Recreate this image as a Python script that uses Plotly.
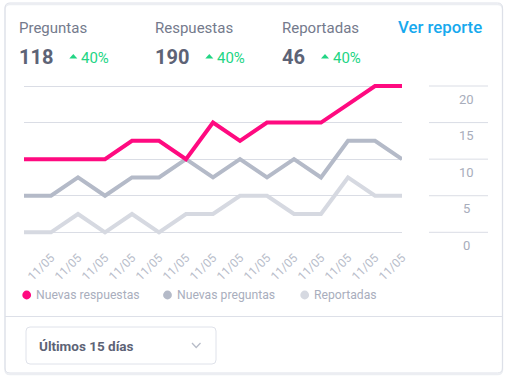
import plotly.graph_objects as go

# ---------------- data ----------------
labels = ["11/05", "11/05", "11/05", "11/05", "11/05", "11/05", "11/05", "11/05",
          "11/05", "11/05", "11/05", "11/05", "11/05", "11/05", "11/05"]
nuevas_respuestas = [10, 10, 10, 10, 12.5, 12.5, 10, 15, 12.5, 15, 15, 15, 17.5, 20, 20]
nuevas_preguntas = [5, 5, 7.5, 5, 7.5, 7.5, 10, 7.5, 10, 7.5, 10, 7.5, 12.5, 12.5, 10]
reportadas = [0, 0, 2.5, 0, 2.5, 0, 2.5, 2.5, 5, 5, 2.5, 2.5, 7.5, 5, 5]
y_ticks = [0, 5, 10, 15, 20]

kpi_names = ["Preguntas", "Respuestas", "Reportadas"]
kpi_values = ["118", "190", "46"]
kpi_changes = ["40%", "40%", "40%"]
series_names = ["Nuevas respuestas", "Nuevas preguntas", "Reportadas"]
period_label = "Últimos 15 días"
link_label = "Ver reporte"

# ---------------- style ----------------
W, H = 508, 380
ML, MR, MT, MB = 24, 106, 82, 144
PW, PH = W - ML - MR, H - MT - MB
PINK, GRAY, LIGHT = "#ff0a80", "#b4bac8", "#d6d9e1"
GREEN = "#22d584"
GRID = "#dadde5"
FONT = "Roboto"
APAD = 3  # annotation internal padding (px)


def px(x):
    return (x - ML) / PW


def py(y):
    return (H - MB - y) / PH


def rounded_rect(x0, y0, x1, y1, r):
    rx, ry = r / PW, r / PH
    X0, X1 = px(x0), px(x1)
    Y0, Y1 = py(y0), py(y1)
    return (f"M {X0+rx},{Y0} L {X1-rx},{Y0} Q {X1},{Y0} {X1},{Y0-ry} "
            f"L {X1},{Y1+ry} Q {X1},{Y1} {X1-rx},{Y1} L {X0+rx},{Y1} "
            f"Q {X0},{Y1} {X0},{Y1+ry} L {X0},{Y0-ry} Q {X0},{Y0} {X0+rx},{Y0} Z")


def text_left(x, y, text, size, color, weight=None):
    f = dict(family=FONT, size=size, color=color)
    if weight:
        f["weight"] = weight
    return dict(xref="paper", yref="paper", x=px(x - APAD), y=py(y),
                xanchor="left", yanchor="middle", showarrow=False, text=text, font=f)


x = list(range(len(labels)))
fig = go.Figure()
for name, vals, col in [(series_names[2], reportadas, LIGHT),
                        (series_names[1], nuevas_preguntas, GRAY),
                        (series_names[0], nuevas_respuestas, PINK)]:
    fig.add_trace(go.Scatter(x=x, y=vals, name=name, mode="lines",
                             line=dict(color=col, width=4), showlegend=False,
                             hoverinfo="skip"))

ypad_bottom = (236 - 232.3) * 20 / 146.3
ypad_top = (86 - 82) * 20 / 146.3

shapes = []
annotations = []

# card shadow + border
shapes.append(dict(type="path", xref="paper", yref="paper",
                   path=rounded_rect(5, 4.5, 502.5, 374.5, 5),
                   line=dict(color="#eceef2", width=1.5), layer="below"))
shapes.append(dict(type="path", xref="paper", yref="paper",
                   path=rounded_rect(5, 3, 502.5, 373, 5),
                   line=dict(color="#dde0e8", width=1), fillcolor="rgba(0,0,0,0)",
                   layer="below"))
# divider
shapes.append(dict(type="line", xref="paper", yref="paper",
                   x0=px(5), x1=px(502.5), y0=py(316.5), y1=py(316.5),
                   line=dict(color="#dde0e8", width=1)))
# dropdown
shapes.append(dict(type="path", xref="paper", yref="paper",
                   path=rounded_rect(26, 327, 216, 364, 4),
                   line=dict(color="#dfe2ea", width=1)))
shapes.append(dict(type="path", xref="paper", yref="paper",
                   path=f"M {px(192)},{py(343)} L {px(196.2)},{py(347.5)} L {px(200.5)},{py(343)}",
                   line=dict(color="#b7bcc8", width=1.3)))
annotations.append(text_left(40, 345.5, f"<b>{period_label}</b>", 13.5, "#5d6376"))

# right side axis: short lines + labels
for v in y_ticks:
    shapes.append(dict(type="line", xref="paper", yref="y",
                       x0=px(429), x1=px(488), y0=v, y1=v,
                       line=dict(color=GRID, width=1)))
    annotations.append(dict(xref="paper", yref="y", x=px(466), y=v, yshift=-13,
                            xanchor="center", yanchor="middle", showarrow=False,
                            text=str(v), font=dict(family=FONT, size=13, color="#a8adbb")))

# KPI header
kx = [19.5, 155.5, 283.3]
arrow_x = [73.3, 209.3, 325]
for i, (n, v, c) in enumerate(zip(kpi_names, kpi_values, kpi_changes)):
    annotations.append(text_left(kx[i], 28, n, 15, "#747a8c"))
    annotations.append(text_left(kx[i], 56.5, f"<b>{v}</b>", 20, "#5d6376"))
    a = arrow_x[i]
    shapes.append(dict(type="path", xref="paper", yref="paper",
                       path=f"M {px(a-4)},{py(58.5)} L {px(a+4)},{py(58.5)} L {px(a)},{py(54)} Z",
                       fillcolor=GREEN, line=dict(width=0)))
    annotations.append(text_left(a + 8.5, 58, c, 15, GREEN))
annotations.append(text_left(399.3, 27, link_label, 16.8, "#17a9ee", 500))

# custom legend
lx = [26.7, 167.5, 304.7]
lcol = [PINK, GRAY, LIGHT]
for i, n in enumerate(series_names):
    r = 4.4
    shapes.append(dict(type="circle", xref="paper", yref="paper",
                       x0=px(lx[i] - r), x1=px(lx[i] + r), y0=py(295 + r), y1=py(295 - r),
                       fillcolor=lcol[i], line=dict(width=0)))
    annotations.append(text_left(lx[i] + 10.5, 295, n, 12.2, "#a9aebd"))

fig.update_layout(
    width=W, height=H,
    margin=dict(l=ML, r=MR, t=MT, b=MB, pad=0),
    paper_bgcolor="white", plot_bgcolor="rgba(0,0,0,0)",
    showlegend=False,
    font=dict(family=FONT),
    xaxis=dict(range=[0, len(labels) - 1], tickmode="array",
               tickvals=x[1:], ticktext=labels[1:], tickangle=-45,
               showgrid=False, zeroline=False, showline=False,
               ticks="outside", ticklen=9, tickcolor="rgba(0,0,0,0)",
               tickfont=dict(family=FONT, size=12, color="#b8bdca"), fixedrange=True),
    yaxis=dict(range=[-ypad_bottom, 20 + ypad_top], tickvals=y_ticks,
               showticklabels=False, showgrid=True, gridcolor=GRID, gridwidth=1,
               zeroline=False, showline=False, fixedrange=True),
    shapes=shapes, annotations=annotations,
)

fig.write_html("out.html", config={"displayModeBar": False},
               post_script="document.body.style.margin='0';document.body.style.overflow='hidden';")
